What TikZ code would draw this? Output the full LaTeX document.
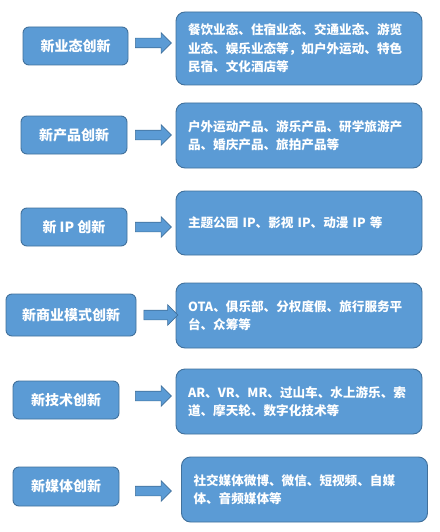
\documentclass[tikz,border=0pt]{standalone}
\usepackage{fontspec}
\newfontfamily\cjk{Noto Sans CJK SC}
\usetikzlibrary{shapes.arrows}
\definecolor{boxfill}{HTML}{5B9BD5}
\definecolor{boxline}{HTML}{41719C}
\tikzset{
  leftbox/.style={draw=boxline, fill=boxfill, line width=0.9pt, rounded corners=6pt,
    text=white, font=\cjk\bfseries\fontsize{14}{17}\selectfont, inner sep=0pt, anchor=center},
  rightbox/.style={draw=boxline, fill=boxfill, line width=0.9pt, rounded corners=9pt,
    text=white, font=\cjk\bfseries\fontsize{12.6}{18.5}\selectfont, text width=222pt,
    align=left, inner xsep=12pt, inner ysep=0pt, minimum width=246pt, anchor=center},
  fatarrow/.style={single arrow, draw=boxline, fill=boxfill, line width=0.6pt,
    minimum width=20pt, minimum height=36pt, inner sep=4.5pt, single arrow head extend=5.5pt,
    single arrow tip angle=90, anchor=center}
}
\begin{document}
\begin{tikzpicture}[x=1pt,y=-1pt]
\useasboundingbox[fill=white] (0,0) rectangle (439,532);
% row 1
\node[leftbox, minimum width=105pt, minimum height=38pt] (l1) at (75.5,46) {新业态创新};
\node[rightbox, minimum height=73pt] (r1) at (299,48.5) {餐饮业态、住宿业态、交通业态、游览\\业态、娱乐业态等，如户外运动、特色\\民宿、文化酒店等};
\node[fatarrow] (a1) at (151,43) {};
% row 2
\node[leftbox, minimum width=106pt, minimum height=38pt] (l2) at (74,135) {新产品创新};
\node[rightbox, minimum height=65pt] (r2) at (299,135.5) {户外运动产品、游乐产品、研学旅游产\\品、婚庆产品、旅拍产品等};
\node[fatarrow] (a2) at (151,135) {};
% row 3
\node[leftbox, minimum width=106pt, minimum height=38pt] (l3) at (74,227) {新 IP 创新};
\node[rightbox, minimum height=64pt] (r3) at (299,223) {主题公园 IP、影视 IP、动漫 IP 等};
\node[fatarrow] (a3) at (151,227) {};
% row 4
\node[leftbox, minimum width=130pt, minimum height=42pt] (l4) at (71,315) {新商业模式创新};
\node[rightbox, minimum height=65pt] (r4) at (299,315.5) {OTA、俱乐部、分权度假、旅行服务平\\台、众筹等};
\node[fatarrow, minimum height=34pt] (a4) at (158.5,315) {};
% row 5
\node[leftbox, minimum width=106pt, minimum height=38pt] (l5) at (66,400) {新技术创新};
\node[rightbox, minimum height=65pt] (r5) at (299,401.5) {AR、VR、MR、过山车、水上游乐、索\\道、摩天轮、数字化技术等};
\node[fatarrow] (a5) at (151,396) {};
% row 6
\node[leftbox, minimum width=106pt, minimum height=39pt] (l6) at (66,486.5) {新媒体创新};
\node[rightbox, minimum height=65pt] (r6) at (304.5,489.5) {社交媒体微博、微信、短视频、自媒\\体、音频媒体等};
\node[fatarrow] (a6) at (151,491) {};
\end{tikzpicture}
\end{document}
